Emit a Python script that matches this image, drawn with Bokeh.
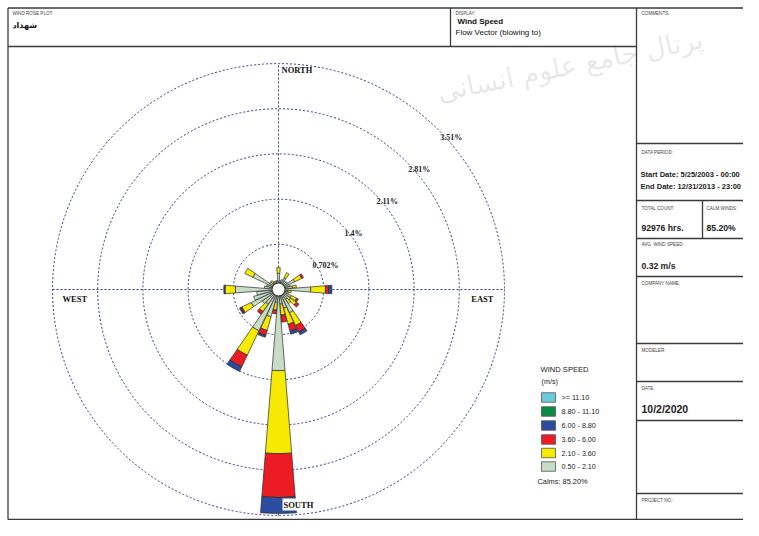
import numpy as np
from bokeh.plotting import figure
from bokeh.models import Range1d, Label, ColumnDataSource
from bokeh.embed import file_html
from bokeh.resources import INLINE
from bokeh.core.properties import value

# ---------------- data ----------------
directions = [0, 10, 20, 30, 40, 50, 60, 70, 80, 90, 100, 110,
              120, 130, 140, 150, 160, 170, 180, 190, 200, 210, 220, 230,
              240, 250, 260, 270, 280, 290, 300, 310, 320, 330, 340, 350]

# percent of hours per direction, per speed class (m/s)
spd_050_210 = [0.25, 0.14, 0.16, 0.20, 0.16, 0.17, 0.28, 0.19, 0.22, 0.50, 0.14, 0.16,
               0.22, 0.23, 0.19, 0.40, 0.30, 0.23, 1.26, 0.20, 0.44, 0.71, 0.28, 0.31,
               0.47, 0.40, 0.34, 0.67, 0.22, 0.19, 0.44, 0.17, 0.12, 0.14, 0.14, 0.14]
spd_210_360 = [0.09, 0.00, 0.00, 0.09, 0.00, 0.00, 0.12, 0.00, 0.06, 0.23, 0.06, 0.00,
               0.09, 0.11, 0.08, 0.22, 0.26, 0.17, 1.29, 0.12, 0.22, 0.42, 0.14, 0.00,
               0.16, 0.00, 0.00, 0.16, 0.00, 0.00, 0.14, 0.00, 0.05, 0.00, 0.00, 0.00]
spd_360_600 = [0.00, 0.00, 0.00, 0.00, 0.00, 0.00, 0.03, 0.00, 0.00, 0.05, 0.00, 0.00,
               0.03, 0.05, 0.00, 0.11, 0.11, 0.11, 0.68, 0.06, 0.08, 0.20, 0.05, 0.00,
               0.02, 0.00, 0.00, 0.00, 0.00, 0.00, 0.00, 0.00, 0.00, 0.00, 0.00, 0.00]
spd_600_880 = [0.00, 0.00, 0.00, 0.00, 0.00, 0.00, 0.00, 0.00, 0.00, 0.05, 0.00, 0.00,
               0.00, 0.00, 0.00, 0.05, 0.05, 0.00, 0.25, 0.00, 0.03, 0.08, 0.00, 0.00,
               0.02, 0.00, 0.00, 0.02, 0.00, 0.00, 0.00, 0.00, 0.00, 0.00, 0.00, 0.00]
spd_880_1110 = [0.00, 0.00, 0.00, 0.00, 0.00, 0.00, 0.00, 0.00, 0.00, 0.00, 0.00, 0.00,
                0.00, 0.00, 0.00, 0.00, 0.00, 0.00, 0.00, 0.00, 0.00, 0.00, 0.00, 0.00,
                0.00, 0.00, 0.00, 0.00, 0.00, 0.00, 0.00, 0.00, 0.00, 0.00, 0.00, 0.00]
spd_1110_up = [0.00, 0.00, 0.00, 0.00, 0.00, 0.00, 0.00, 0.00, 0.00, 0.00, 0.00, 0.00,
               0.00, 0.00, 0.00, 0.00, 0.00, 0.00, 0.00, 0.00, 0.00, 0.00, 0.00, 0.00,
               0.00, 0.00, 0.00, 0.00, 0.00, 0.00, 0.00, 0.00, 0.00, 0.00, 0.00, 0.00]

ring_values = [0.702, 1.404, 2.106, 2.808, 3.51]
ring_labels = ["0.702%", "1.4%", "2.11%", "2.81%", "3.51%"]

legend_labels = [">= 11.10", "8.80 - 11.10", "6.00 - 8.80", "3.60 - 6.00", "2.10 - 3.60", "0.50 - 2.10"]
legend_colors = ["#6CCADF", "#0A8A44", "#2B4C9F", "#EC1C24", "#F6EA00", "#C7DDC6"]

calm_text = "Calms: 85.20%"
station_name = "شهداد"

# ---------------- geometry helpers ----------------
W, H = 743, 520
CX, CY = 278.0, 289.0          # rose centre in canvas pixels
S = 3.51 / 226.0               # percent per pixel


def PX(x):
    return (x - CX) * S


def PY(y):
    return (CY - y) * S


p = figure(width=W, height=H, output_backend="svg", toolbar_location=None,
           x_range=Range1d(PX(0), PX(W)), y_range=Range1d(PY(H), PY(0)),
           min_border=0)
p.axis.visible = False
p.grid.visible = False
p.outline_line_color = None
p.background_fill_color = "white"
p.border_fill_color = "white"

SANS = value("Liberation Sans")
SERIF = value("Liberation Serif")


def txt(s, x, y, size, font=SANS, style="normal", color="#111", align="left",
        baseline="middle", angle=0.0, alpha=1.0):
    p.text(x=[PX(x)], y=[PY(y)], text=[s], text_font=font, text_font_size=size,
           text_font_style=style, text_color=color, text_align=align,
           text_baseline=baseline, angle=angle, text_alpha=alpha)


# faint watermark of the source page
txt("پرتال جامع علوم انسانی", 702, 38, "27px", font=value("DejaVu Sans"),
    color="#000000", align="right", angle=0.2, alpha=0.1)

# ---------------- form frame ----------------
seg_x0, seg_y0, seg_x1, seg_y1 = [], [], [], []


def line(x0, y0, x1, y1):
    seg_x0.append(PX(x0)); seg_y0.append(PY(y0)); seg_x1.append(PX(x1)); seg_y1.append(PY(y1))


BOT = 519
line(7.5, 7.5, W, 7.5)
line(7.5, 7.5, 7.5, BOT)
line(7.5, BOT, W, BOT)
line(7.5, 46, 636, 46)
line(450, 7.5, 450, 46)
line(636, 7.5, 636, BOT)
for yy in [143, 200, 238, 276, 343, 381, 420, 493]:
    line(636, yy, W, yy)
line(702, 200, 702, 238)
p.segment(x0=seg_x0, y0=seg_y0, x1=seg_x1, y1=seg_y1, line_color="#3a3a3a", line_width=1.3)

# ---------------- form texts ----------------
small = "4.6px"
for s_, x_, y_ in [("WIND ROSE PLOT:", 12, 13), ("DISPLAY:", 455, 13), ("COMMENTS:", 641, 13),
                   ("DATA PERIOD:", 641, 152), ("TOTAL COUNT:", 641, 208), ("CALM WINDS:", 706, 208),
                   ("AVG. WIND SPEED:", 641, 244), ("COMPANY NAME:", 641, 283), ("MODELER:", 641, 350),
                   ("DATE:", 641, 388), ("PROJECT NO.:", 641, 500)]:
    txt(s_, x_, y_, small, color="#444")

txt(station_name, 12, 25, "8px", font=value("DejaVu Sans"), style="bold")
txt("Wind Speed", 457, 21, "8px", style="bold")
txt("Flow Vector (blowing to)", 455, 32, "8px")
txt("Start Date: 5/25/2003 - 00:00", 640, 174, "7.5px", style="bold", color="#222")
txt("End Date: 12/31/2013 - 23:00", 640, 185.5, "7.5px", style="bold", color="#222")
txt("92976 hrs.", 641, 227, "8.6px", style="bold", color="#222")
txt("85.20%", 706, 227, "8.6px", style="bold", color="#222")
txt("0.32 m/s", 641, 265, "8.6px", style="bold", color="#222")
txt("10/2/2020", 641, 408, "10.5px", style="bold", color="#222")

# ---------------- rose grid ----------------
R = ring_values[-1]
GRID = "#2E3A86"
p.segment(x0=[-R, 0], y0=[0, -R], x1=[R, 0], y1=[0, R], line_color=GRID,
          line_width=1, line_dash="2 2")
p.circle(x=[0] * len(ring_values), y=[0] * len(ring_values), radius=ring_values,
         fill_color=None, line_color=GRID, line_width=1, line_dash="2 2")

# ---------------- rose bars ----------------
series = [spd_050_210, spd_210_360, spd_360_600, spd_600_880, spd_880_1110, spd_1110_up]
series_colors = ["#C7DDC6", "#F6EA00", "#EC1C24", "#2B4C9F", "#0A8A44", "#6CCADF"]
half = np.radians(4.6)
inner, outer, start, end, col = [], [], [], [], []
for i, d in enumerate(directions):
    cum = 0.0
    for ser, c in zip(series, series_colors):
        v = ser[i]
        if v <= 0:
            continue
        th = np.radians(90 - d)
        inner.append(cum); outer.append(cum + v)
        start.append(th - half); end.append(th + half); col.append(c)
        cum += v
src = ColumnDataSource(dict(inner=inner, outer=outer, start=start, end=end, color=col))
p.annular_wedge(x=0, y=0, inner_radius="inner", outer_radius="outer",
                start_angle="start", end_angle="end", fill_color="color",
                line_color="#2a2a2a", line_width=0.7, source=src)

# calm circle
p.circle(x=[0], y=[0], radius=0.1, fill_color="white", line_color="#222", line_width=0.9)

# ring labels on the NE diagonal
c45 = np.cos(np.radians(45))
for rv, lab in zip(ring_values, ring_labels):
    p.text(x=[rv * c45 + 2 * S], y=[rv * c45 - 3.5 * S], text=[lab], text_font=SERIF,
           text_font_size="8px", text_font_style="bold", text_color="#222",
           text_align="left", text_baseline="top")

# compass labels
p.text(x=[3 * S], y=[R - 6 * S], text=["NORTH"], text_font=SERIF, text_font_size="8.5px",
       text_font_style="bold", text_color="#111", text_baseline="middle")
p.text(x=[-R + 10 * S], y=[-9 * S], text=["WEST"], text_font=SERIF, text_font_size="8.5px",
       text_font_style="bold", text_color="#111", text_baseline="middle")
p.text(x=[R - 11 * S], y=[-9 * S], text=["EAST"], text_font=SERIF, text_font_size="8.5px",
       text_font_style="bold", text_color="#111", text_baseline="middle", text_align="right")
p.add_layout(Label(x=4 * S, y=-R + 11 * S, text="SOUTH", text_font="Liberation Serif",
                   text_font_size="8.5px", text_font_style="bold", text_color="#111",
                   text_baseline="middle", background_fill_color="white", padding=1))

# ---------------- legend ----------------
txt("WIND SPEED", 540, 369, "7.6px", color="#222")
txt("(m/s)", 541, 381, "7.2px", color="#222")
rows_y = [397, 411, 425, 439, 452.5, 466]
p.rect(x=[PX(548)] * len(legend_labels), y=[PY(v) for v in rows_y],
       width=14 * S, height=9.5 * S, fill_color=legend_colors, line_color="#555", line_width=0.8)
for lab, yy in zip(legend_labels, rows_y):
    txt(lab, 561, yy, "7.2px", color="#222")
txt(calm_text, 537, 481, "7.4px", color="#222")

open("out.html", "w").write(file_html(p, INLINE))
